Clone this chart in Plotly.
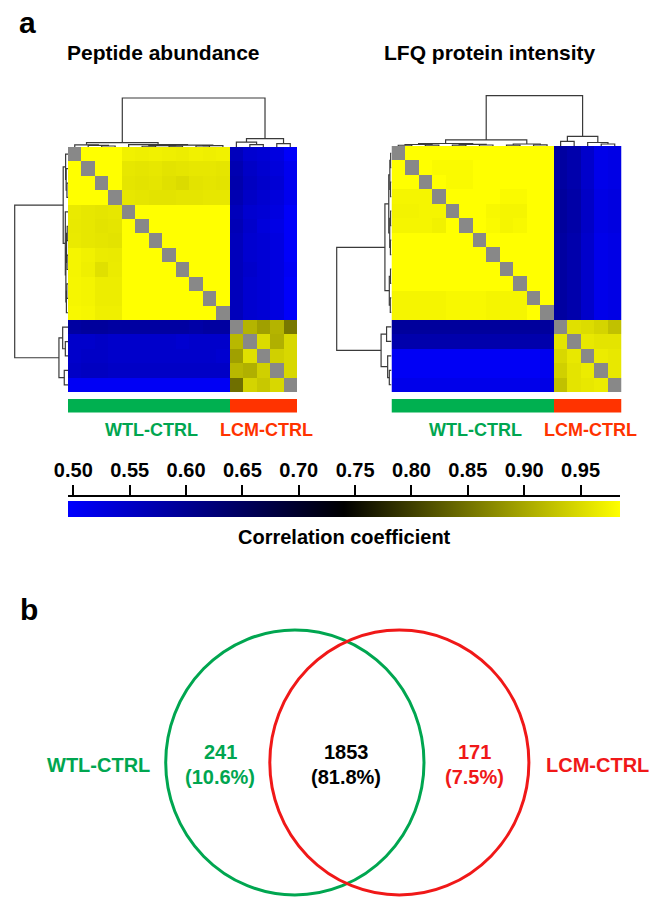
import plotly.graph_objects as go

W, H = 664, 898


def px(x):
    return x / W


def py(y):
    return 1 - y / H


N = None
FONT = "Liberation Sans, Arial, Helvetica, sans-serif"

# ---------------- data ----------------
group_names = ["WTL-CTRL", "LCM-CTRL"]
group_sizes = [12, 5]
group_bar_colors = ["#00b050", "#ff3300"]
group_text_colors = ["#00a650", "#ff3300"]

panel_titles = ["Peptide abundance", "LFQ protein intensity"]

peptide_corr = [
    [N, .990, .990, .988, .972, .970, .972, .970, .968, .972, .970, .972, .560, .540, .535, .525, .500],
    [.990, N, .990, .990, .962, .960, .962, .958, .960, .962, .962, .960, .570, .550, .540, .530, .510],
    [.990, .990, N, .990, .960, .958, .960, .955, .950, .958, .960, .958, .575, .555, .545, .535, .510],
    [.988, .990, .990, N, .962, .960, .958, .958, .960, .960, .962, .962, .570, .550, .540, .530, .510],
    [.965, .962, .960, .962, N, .988, .990, .990, .988, .990, .990, .988, .560, .540, .535, .525, .500],
    [.964, .962, .958, .960, .988, N, .990, .990, .990, .990, .990, .990, .565, .545, .530, .520, .500],
    [.965, .962, .960, .958, .990, .990, N, .990, .990, .990, .990, .990, .560, .540, .535, .525, .500],
    [.975, .972, .966, .965, .990, .990, .990, N, .990, .990, .990, .990, .560, .540, .535, .525, .500],
    [.975, .970, .955, .966, .988, .990, .990, .990, N, .990, .990, .990, .560, .545, .535, .525, .505],
    [.976, .974, .968, .968, .990, .990, .990, .990, .990, N, .990, .990, .560, .540, .535, .525, .500],
    [.976, .974, .968, .968, .990, .990, .990, .990, .990, .990, N, .990, .560, .540, .535, .525, .500],
    [.978, .976, .970, .970, .988, .990, .990, .990, .990, .990, .990, N, .560, .540, .535, .525, .500],
    [.585, .590, .590, .585, .585, .585, .585, .585, .585, .580, .585, .585, N, .913, .894, .913, .855],
    [.545, .545, .550, .545, .545, .545, .545, .545, .540, .545, .545, .545, .917, N, .951, .909, .948],
    [.545, .550, .550, .545, .545, .545, .545, .545, .545, .545, .545, .540, .894, .955, N, .940, .948],
    [.550, .555, .555, .550, .550, .550, .550, .550, .550, .550, .550, .550, .917, .909, .940, N, .948],
    [.505, .505, .505, .505, .505, .505, .505, .505, .505, .505, .505, .505, .847, .944, .932, .948, N],
]

lfq_corr = [
    [N, .990, .990, .985, .985, .985, .990, .990, .985, .985, .990, .990, .585, .575, .545, .515, .520],
    [.990, N, .990, .980, .980, .980, .990, .990, .985, .985, .990, .990, .585, .575, .545, .515, .520],
    [.990, .990, N, .985, .980, .980, .985, .985, .985, .985, .990, .990, .585, .575, .545, .515, .520],
    [.975, .975, .975, N, .985, .985, .985, .985, .980, .980, .985, .985, .590, .580, .550, .520, .525],
    [.973, .973, .975, .975, N, .985, .985, .978, .975, .975, .985, .985, .590, .580, .550, .520, .525],
    [.975, .975, .975, .972, .985, N, .985, .980, .975, .978, .985, .985, .590, .580, .550, .520, .525],
    [.990, .990, .988, .985, .985, .985, N, .990, .988, .988, .990, .990, .585, .575, .545, .515, .520],
    [.990, .990, .988, .985, .985, .985, .990, N, .988, .988, .990, .990, .585, .575, .545, .515, .520],
    [.988, .990, .985, .985, .985, .985, .990, .990, N, .990, .988, .988, .585, .575, .545, .515, .520],
    [.988, .990, .985, .985, .985, .985, .990, .990, .990, N, .988, .988, .585, .575, .545, .515, .520],
    [.975, .975, .975, .975, .978, .978, .978, .975, .975, .975, N, .988, .585, .575, .545, .515, .520],
    [.975, .975, .975, .975, .978, .978, .978, .975, .975, .975, .988, N, .585, .575, .545, .515, .520],
    [.590, .590, .590, .590, .590, .590, .590, .590, .590, .590, .590, .590, N, .955, .951, .944, .925],
    [.575, .575, .575, .575, .575, .575, .575, .575, .575, .575, .575, .575, .959, N, .963, .959, .959],
    [.505, .505, .505, .505, .505, .505, .505, .505, .505, .505, .505, .510, .948, .963, N, .967, .963],
    [.505, .505, .505, .505, .505, .505, .505, .505, .505, .505, .505, .510, .940, .959, .967, N, .963],
    [.515, .515, .515, .515, .515, .515, .515, .515, .515, .515, .515, .520, .925, .959, .963, .967, N],
]

# hierarchical clustering links: (child a, child b, merge height)
peptide_links = [
    (5, 6, 0.015), (7, 8, 0.018), (2, 3, 0.020), (17, 18, 0.028),
    (9, 10, 0.022), (21, 11, 0.030), (20, 22, 0.040), (1, 19, 0.035),
    (4, 23, 0.050), (0, 24, 0.045), (26, 25, 0.090),
    (13, 14, 0.050), (15, 16, 0.070), (12, 28, 0.100), (30, 29, 0.170),
    (27, 31, 1.000),
]
lfq_links = [
    (0, 1, 0.015), (2, 3, 0.018), (17, 18, 0.030), (4, 5, 0.016),
    (6, 7, 0.020), (20, 21, 0.032), (19, 22, 0.050), (8, 9, 0.018),
    (10, 11, 0.022), (24, 25, 0.040), (23, 26, 0.120),
    (15, 16, 0.040), (14, 28, 0.070), (12, 13, 0.090), (30, 29, 0.190),
    (27, 31, 1.000),
]

cbar_ticks = [0.50, 0.55, 0.60, 0.65, 0.70, 0.75, 0.80, 0.85, 0.90, 0.95]
cbar_min, cbar_max = 0.495, 0.985
cbar_title = "Correlation coefficient"

venn_sets = ["WTL-CTRL", "LCM-CTRL"]
venn_counts = [241, 1853, 171]  # WTL only, shared, LCM only

# ---------------- helpers ----------------
COLORSCALE = [[0, "#0000ff"], [0.5, "#000000"], [1, "#ffff00"]]
GRAY = "#888888"
DCOL = "#3a3a3a"


def dendro_segments(n, links):
    pos = {i: float(i) for i in range(n)}
    hgt = {i: 0.0 for i in range(n)}
    xs, ys = [], []
    for k, (a, b, h) in enumerate(links):
        node = n + k
        xs += [pos[a], pos[a], pos[b], pos[b], None]
        ys += [hgt[a], h, h, hgt[b], None]
        pos[node] = (pos[a] + pos[b]) / 2
        hgt[node] = h
    return xs, ys


def hide(**kw):
    d = dict(visible=False, showgrid=False, zeroline=False, fixedrange=True)
    d.update(kw)
    return d


fig = go.Figure()
layout = {}

panels = [
    dict(corr=peptide_corr, links=peptide_links, hx=(68, 297), hy=(147, 392),
         top_root=98, top_lim=93, left_root=14.7, left_lim=8, title_x=163),
    dict(corr=lfq_corr, links=lfq_links, hx=(391.5, 621.5), hy=(146, 392),
         top_root=95.7, top_lim=91, left_root=336.7, left_lim=330, title_x=489),
]

groups = []
for gi, s in enumerate(group_sizes):
    groups += [gi] * s
n = len(groups)
idx = list(range(n))
annotations = []

for p, P in enumerate(panels):
    base = 1 + p * 4
    ax_h, ax_t, ax_l, ax_b = base, base + 1, base + 2, base + 3
    nm = lambda i: "" if i == 1 else str(i)
    corr = P["corr"]
    x0, x1 = P["hx"]
    y0, y1 = P["hy"]

    # heatmap
    hm = dict(z=corr, x=idx, y=idx, colorscale=COLORSCALE, zmin=cbar_min, zmax=cbar_max,
              xaxis="x" + nm(ax_h), yaxis="y" + nm(ax_h), hoverongaps=False,
              showscale=(p == 0))
    if p == 0:
        hm["colorbar"] = dict(orientation="h", x=px(67.7), xanchor="left",
                              y=py(500.7), yanchor="top", len=(620 - 67.7) / W,
                              lenmode="fraction", thickness=16, thicknessmode="pixels",
                              xpad=0, ypad=0, outlinewidth=0, showticklabels=False,
                              ticks="")
    fig.add_trace(go.Heatmap(**hm))
    diag = [[1 if v is None else None for v in row] for row in corr]
    fig.add_trace(go.Heatmap(z=diag, x=idx, y=idx, colorscale=[[0, GRAY], [1, GRAY]],
                             showscale=False, xaxis="x" + nm(ax_h), yaxis="y" + nm(ax_h),
                             hoverinfo="skip"))
    layout["xaxis" + nm(ax_h)] = hide(domain=[px(x0), px(x1)], range=[-0.5, n - 0.5],
                                      anchor="y" + nm(ax_h))
    layout["yaxis" + nm(ax_h)] = hide(domain=[py(y1), py(y0)], range=[n - 0.5, -0.5],
                                      anchor="x" + nm(ax_h))

    # dendrograms
    dx, dy = dendro_segments(n, P["links"])
    root = max(l[2] for l in P["links"])
    fig.add_trace(go.Scatter(x=dx, y=dy, mode="lines", line=dict(color=DCOL, width=1.2),
                             xaxis="x" + nm(ax_t), yaxis="y" + nm(ax_t), hoverinfo="skip",
                             showlegend=False))
    rt = root * (y0 - P["top_lim"]) / (y0 - P["top_root"])
    layout["xaxis" + nm(ax_t)] = hide(domain=[px(x0), px(x1)], range=[-0.5, n - 0.5],
                                      anchor="y" + nm(ax_t))
    layout["yaxis" + nm(ax_t)] = hide(domain=[py(y0), py(P["top_lim"])], range=[0, rt],
                                      anchor="x" + nm(ax_t))

    fig.add_trace(go.Scatter(x=dy, y=dx, mode="lines", line=dict(color=DCOL, width=1.2),
                             xaxis="x" + nm(ax_l), yaxis="y" + nm(ax_l), hoverinfo="skip",
                             showlegend=False))
    rl = root * (x0 - P["left_lim"]) / (x0 - P["left_root"])
    layout["xaxis" + nm(ax_l)] = hide(domain=[px(P["left_lim"]), px(x0)], range=[rl, 0],
                                      anchor="y" + nm(ax_l))
    layout["yaxis" + nm(ax_l)] = hide(domain=[py(y1), py(y0)], range=[n - 0.5, -0.5],
                                      anchor="x" + nm(ax_l))

    # group bar
    ng = len(group_names)
    cs = []
    for gi, c in enumerate(group_bar_colors):
        cs += [[gi / ng, c], [(gi + 1) / ng, c]]
    fig.add_trace(go.Heatmap(z=[groups], x=idx, y=[0], colorscale=cs, zmin=-0.5,
                             zmax=ng - 0.5, showscale=False, hoverinfo="skip",
                             xaxis="x" + nm(ax_b), yaxis="y" + nm(ax_b)))
    layout["xaxis" + nm(ax_b)] = hide(domain=[px(x0), px(x1)], range=[-0.5, n - 0.5],
                                      anchor="y" + nm(ax_b))
    layout["yaxis" + nm(ax_b)] = hide(domain=[py(412.5), py(399)], range=[-0.5, 0.5],
                                      anchor="x" + nm(ax_b))
    start = 0
    for gi, gname in enumerate(group_names):
        c = start + (group_sizes[gi] - 1) / 2
        start += group_sizes[gi]
        annotations.append(dict(x=c, y=py(430), xref="x" + nm(ax_b), yref="paper",
                                text="<b>%s</b>" % gname, showarrow=False, xshift=3,
                                xanchor="center", yanchor="middle",
                                font=dict(family=FONT, size=18, color=group_text_colors[gi])))

    annotations.append(dict(x=px(P["title_x"]), y=py(52.5), xref="paper", yref="paper",
                            text="<b>%s</b>" % panel_titles[p], showarrow=False,
                            xanchor="center", yanchor="middle",
                            font=dict(family=FONT, size=21, color="black")))

# colour bar tick axis
layout["xaxis9"] = dict(domain=[px(67.7), px(620)], range=[cbar_min, cbar_max],
                        anchor="y9", side="top", showline=True, linewidth=2,
                        linecolor="black", ticks="outside", ticklen=10, tickwidth=2,
                        tickcolor="black", tickvals=cbar_ticks,
                        ticktext=["%.2f" % t for t in cbar_ticks], showgrid=False,
                        zeroline=False, fixedrange=True,
                        tickfont=dict(family=FONT, size=20, color="black", weight="bold"))
layout["yaxis9"] = hide(domain=[py(516), py(497)], range=[0, 1], anchor="x9")
fig.add_trace(go.Scatter(x=[cbar_min], y=[0.5], mode="markers", marker=dict(opacity=0),
                         xaxis="x9", yaxis="y9", hoverinfo="skip", showlegend=False))

annotations.append(dict(x=px(344), y=py(537), xref="paper", yref="paper",
                        text="<b>%s</b>" % cbar_title, showarrow=False,
                        xanchor="center", yanchor="middle",
                        font=dict(family=FONT, size=20, color="black")))

# panel letters
annotations.append(dict(x=px(28), y=py(23), xref="paper", yref="paper", text="<b>a</b>",
                        showarrow=False, xanchor="center", yanchor="middle",
                        font=dict(family=FONT, size=30, color="black")))
annotations.append(dict(x=px(29), y=py(609), xref="paper", yref="paper", text="<b>b</b>",
                        showarrow=False, xanchor="center", yanchor="middle",
                        font=dict(family=FONT, size=30, color="black")))

# Venn diagram
venn_green = "#00a650"
venn_red = "#f01818"
shapes = [
    dict(type="circle", xref="paper", yref="paper", x0=px(165.7), x1=px(424),
         y0=py(895), y1=py(630), line=dict(color=venn_green, width=3)),
    dict(type="circle", xref="paper", yref="paper", x0=px(269.8), x1=px(528.9),
         y0=py(895), y1=py(630), line=dict(color=venn_red, width=3)),
]
total = sum(venn_counts)
venn_x = [220, 346, 474]
venn_cols = [venn_green, "black", venn_red]
for i, cnt in enumerate(venn_counts):
    for txt, yy in [(str(cnt), 751.5), ("(%.1f%%)" % (100 * cnt / total), 777)]:
        annotations.append(dict(x=px(venn_x[i]), y=py(yy), xref="paper", yref="paper",
                                text="<b>%s</b>" % txt, showarrow=False,
                                xanchor="center", yanchor="middle",
                                font=dict(family=FONT, size=20, color=venn_cols[i])))
for name, xx, col in [(venn_sets[0], 98, venn_green), (venn_sets[1], 597, venn_red)]:
    annotations.append(dict(x=px(xx), y=py(765), xref="paper", yref="paper",
                            text="<b>%s</b>" % name, showarrow=False,
                            xanchor="center", yanchor="middle",
                            font=dict(family=FONT, size=20, color=col)))

fig.update_layout(width=W, height=H,
                  margin=dict(l=0, r=0, t=0, b=0, pad=0, autoexpand=False),
                  paper_bgcolor="white", plot_bgcolor="rgba(0,0,0,0)",
                  showlegend=False, annotations=annotations, shapes=shapes,
                  font=dict(family=FONT), **layout)

fig.write_html("out.html", config={"displayModeBar": False},
               post_script="document.body.style.margin='0';"
                           "document.body.style.padding='0';"
                           "document.body.style.overflow='hidden';"
                           "document.documentElement.style.overflow='hidden';")
